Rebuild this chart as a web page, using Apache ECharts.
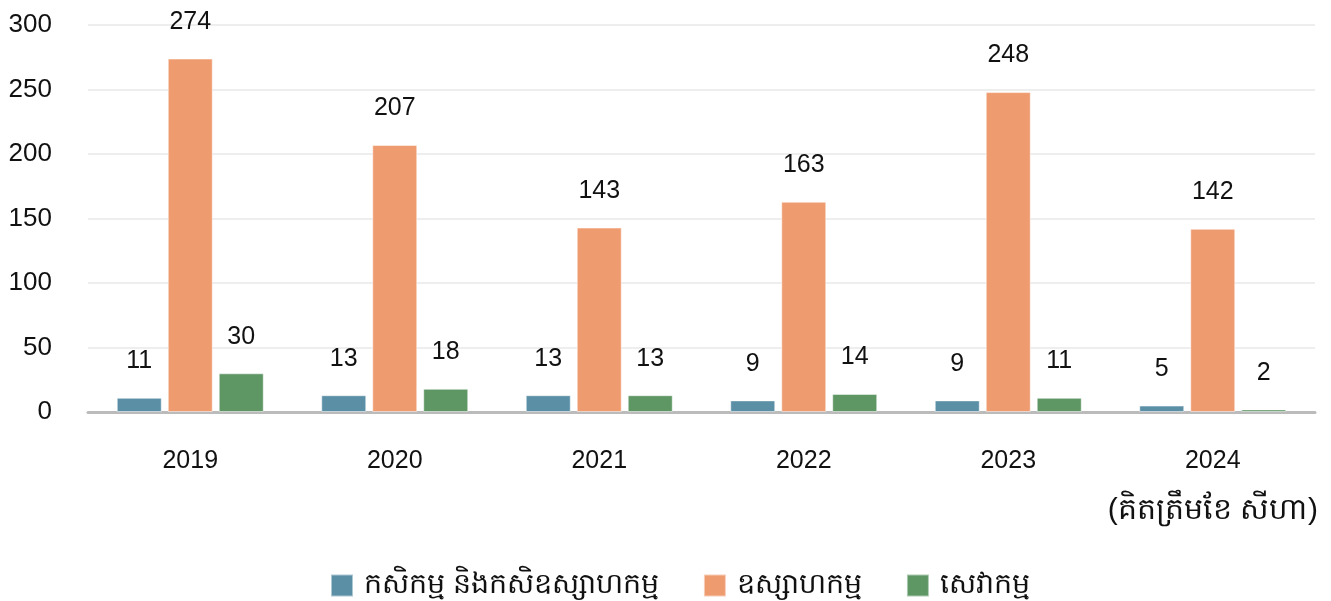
<!DOCTYPE html>
<html><head><meta charset="utf-8">
<script src="https://cdn.jsdelivr.net/npm/echarts@6/dist/echarts.min.js"></script>
<style>html,body{margin:0;padding:0;background:#fff}#c{width:1331px;height:601px}</style>
</head><body><div id="c"></div>
<script>
const categories = ['2019','2020','2021','2022','2023','2024'];
const seriesNames = ['កសិកម្ម និងកសិឧស្សាហកម្ម','ឧស្សាហកម្ម','សេវាកម្ម'];
const agri = [11,13,13,9,9,5];
const industry = [274,207,143,163,248,142];
const services = [30,18,13,14,11,2];
const yTicks = [0,50,100,150,200,250,300];
const note = '(គិតត្រឹមខែ សីហា)';

const colors = ['#5b8fa6','#ef9b70','#5e9664'];
const font = '"Liberation Sans", Arial, "Noto Sans", sans-serif';
const chart = echarts.init(document.getElementById('c'));
const mk = (name, data, i) => ({
  name, type:'bar', data,
  barWidth: 45, barGap: '13.3%',
  itemStyle:{color:colors[i], borderColor:'rgba(255,255,255,0.5)', borderWidth:1},
  label:{show:true, position:'top', distance:24, color:'#111', fontSize:25, fontFamily:font}
});
chart.setOption({
  animation:false,
  color: colors,
  grid:{left:88, right:16, top:25, bottom:189},
  graphic:[{type:'text', right:13, top:496, style:{text:note, fill:'#111', font:'30px ' + font}}],
  legend:{top:566, left:325, itemWidth:22, itemHeight:22, itemGap:44, icon:'rect',
    textStyle:{fontSize:28.5, color:'#111', fontFamily:font, padding:[0,0,0,6]}, data:seriesNames},
  xAxis:{type:'category', data:categories,
    axisLine:{lineStyle:{color:'#bbb', width:3}}, axisTick:{show:false},
    axisLabel:{fontSize:25, color:'#111', margin:37, fontFamily:font}},
  yAxis:{type:'value', min:yTicks[0], max:yTicks[yTicks.length-1], interval:50,
    axisLine:{show:false}, axisTick:{show:false},
    splitLine:{lineStyle:{color:'#eee', width:2}},
    axisLabel:{fontSize:26, color:'#111', margin:36, fontFamily:font}},
  series:[mk(seriesNames[0],agri,0), mk(seriesNames[1],industry,1), mk(seriesNames[2],services,2)]
});
</script></body></html>
